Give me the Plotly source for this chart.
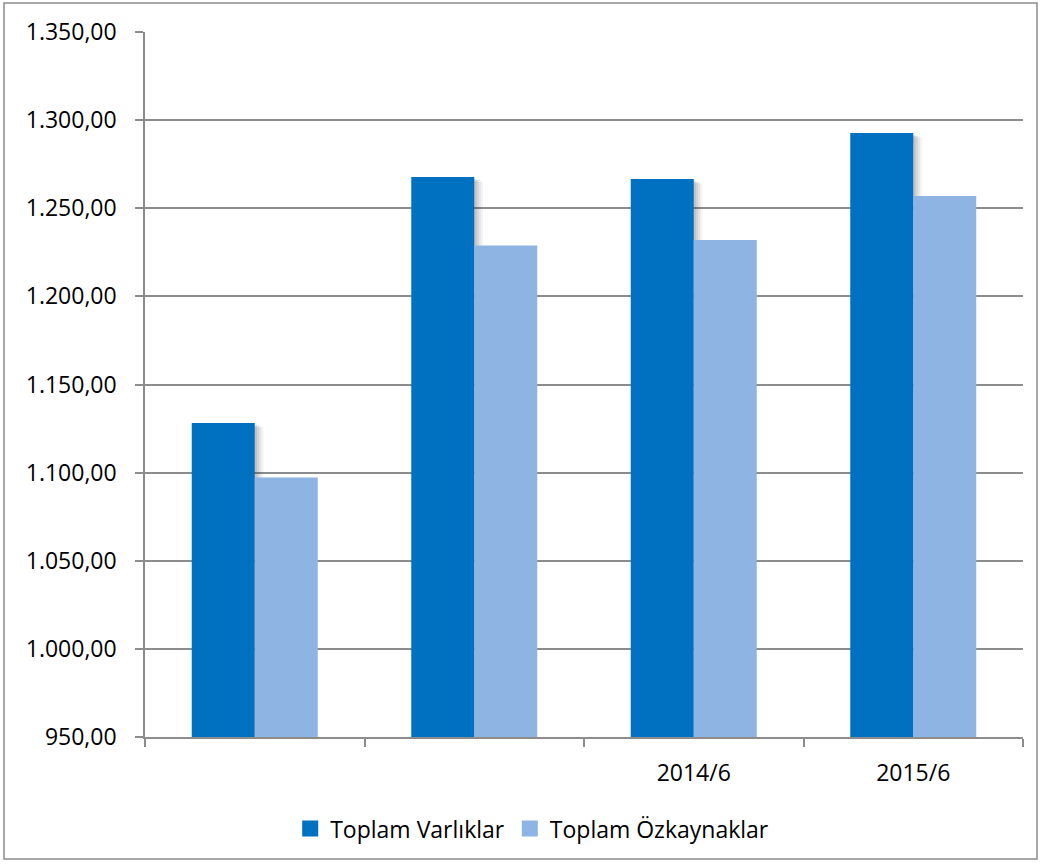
import plotly.graph_objects as go

# ---- data ----
categories = ["", "", "2014/6", "2015/6"]
toplam_varliklar = [1128.2, 1267.7, 1266.6, 1292.7]
toplam_ozkaynaklar = [1097.3, 1228.9, 1232.0, 1257.0]
y_ticks = [950, 1000, 1050, 1100, 1150, 1200, 1250, 1300, 1350]
y_tick_labels = ["950,00", "1.000,00", "1.050,00", "1.100,00", "1.150,00",
                 "1.200,00", "1.250,00", "1.300,00", "1.350,00"]
series_names = ["Toplam Varlıklar", "Toplam Özkaynaklar"]

W, H = 1041, 866
L, R, T, B = 145, 18, 32, 129
FONT = "Open Sans"
FS = 23
DARK = "#0070C0"
LIGHT = "#8EB4E3"
GRID = "#8C8C8C"

xs = list(range(len(categories)))
bw = 0.287

fig = go.Figure()
# soft shadow to the right of dark bars
for dx, dy, a in [(0.040, -2.5, 0.06), (0.030, -2.0, 0.08), (0.020, -1.5, 0.10), (0.010, -1.0, 0.11)]:
    fig.add_trace(go.Bar(
        x=xs, y=[v + dy - 950 for v in toplam_varliklar], base=950,
        width=bw, offset=-bw + dx,
        marker=dict(color=f"rgba(60,60,60,{a})", line=dict(width=0)),
        showlegend=False, hoverinfo="skip"))
fig.add_trace(go.Bar(
    x=xs, y=[v - 950 for v in toplam_varliklar], base=950, name=series_names[0],
    width=bw, offset=-bw, marker=dict(color=DARK, line=dict(width=0)),
    showlegend=False))
fig.add_trace(go.Bar(
    x=xs, y=[v - 950 for v in toplam_ozkaynaklar], base=950, name=series_names[1],
    width=bw, offset=0, marker=dict(color=LIGHT, line=dict(width=0)),
    showlegend=False))

# legend entries with square keys
for nm, col in zip(series_names, [DARK, LIGHT]):
    fig.add_trace(go.Scatter(x=[None], y=[None], mode="markers", name=nm,
                             marker=dict(symbol="square", size=16, color=col),
                             hoverinfo="skip"))

# invisible trace on xaxis2 for category labels
fig.add_trace(go.Scatter(x=xs, y=[950] * len(xs), xaxis="x2", mode="markers",
                         marker=dict(opacity=0), showlegend=False, hoverinfo="skip"))

fig.update_layout(
    width=W, height=H,
    margin=dict(l=L, r=R, t=T, b=B),
    paper_bgcolor="white", plot_bgcolor="white",
    barmode="overlay",
    font=dict(family=FONT, size=FS, color="#000000"),
    xaxis=dict(range=[-0.5, 3.5], tickvals=[-0.5, 0.5, 1.5, 2.5, 3.5],
               showticklabels=False, ticks="outside", ticklen=8, tickwidth=1.5,
               tickcolor=GRID, showline=True, linecolor=GRID, linewidth=1.5,
               showgrid=False, zeroline=False, fixedrange=True),
    xaxis2=dict(range=[-0.5, 3.5], overlaying="x", side="bottom",
                tickvals=xs, ticktext=categories, ticks="outside", ticklen=15,
                tickcolor="rgba(0,0,0,0)", showline=False, showgrid=False,
                zeroline=False, tickfont=dict(family=FONT, size=FS, color="#000000")),
    yaxis=dict(range=[950, 1350], tickvals=y_ticks, ticktext=y_tick_labels,
               ticks="outside", ticklen=8, tickwidth=1.5, tickcolor=GRID,
               showline=True, linecolor=GRID, linewidth=1.5,
               showgrid=True, gridcolor=GRID, gridwidth=1.5, zeroline=False,
               ticklabelstandoff=14),
    legend=dict(orientation="h", x=0.441, xanchor="center", y=-0.13, yanchor="middle",
                font=dict(family=FONT, size=FS, color="#000000"),
                itemwidth=30, tracegroupgap=0),
    shapes=[dict(type="rect", xref="paper", yref="paper",
                 x0=(4 - L) / (W - L - R), x1=(1037 - L) / (W - L - R),
                 y0=(H - B - 859) / (H - T - B), y1=(H - B - 3) / (H - T - B),
                 line=dict(color="#8C8C8C", width=1.5), fillcolor="rgba(0,0,0,0)",
                 layer="below")],
)

fig.write_html("out.html", config={"displayModeBar": False},
               post_script="document.body.style.margin='0';")
